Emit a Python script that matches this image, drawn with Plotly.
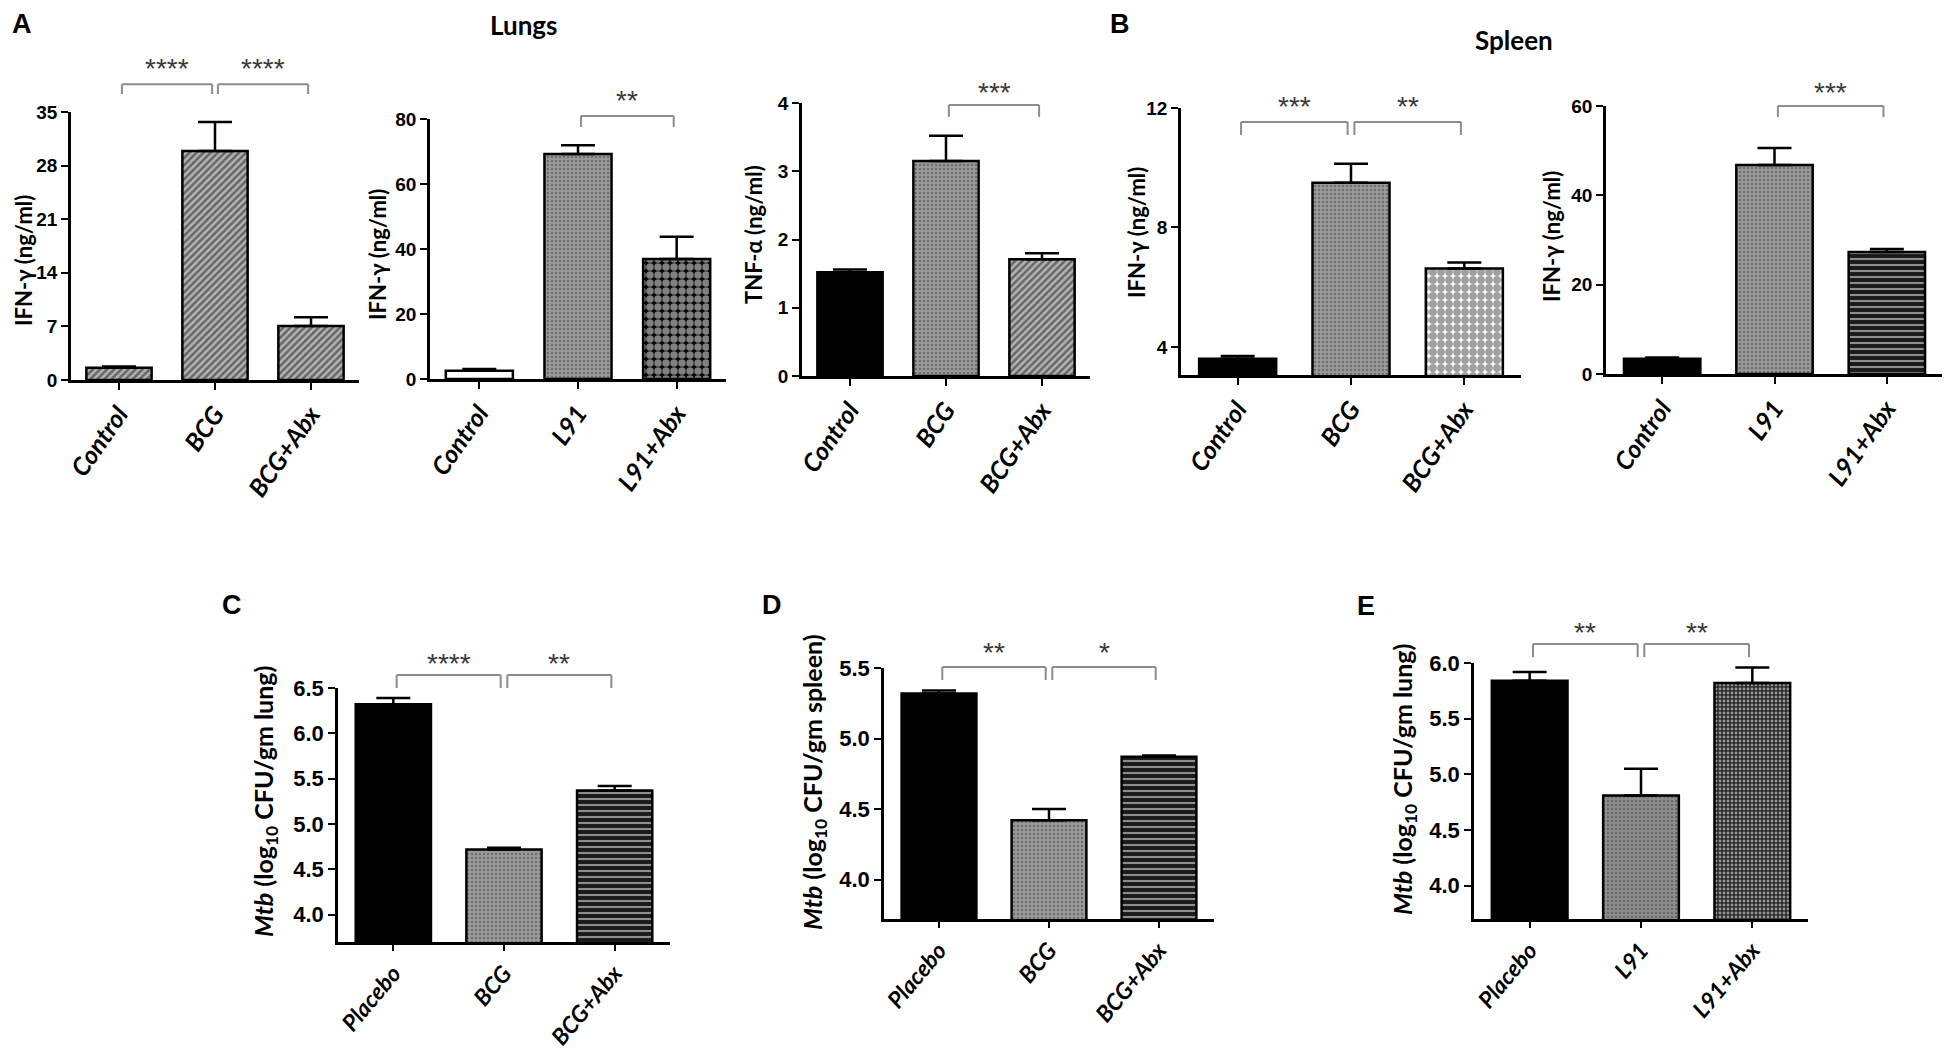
import plotly.graph_objects as go

W, H = 1950, 1050
OFF_X, OFF_Y = 5, 8  # page body margin in the browser

# ---- data (means and upper SEM) ----
bcg_groups = ["Control", "BCG", "BCG+Abx"]
l91_groups = ["Control", "L91", "L91+Abx"]
cfu_bcg_groups = ["Placebo", "BCG", "BCG+Abx"]
cfu_l91_groups = ["Placebo", "L91", "L91+Abx"]

lung_bcg_ifng = [1.6, 29.9, 7.05]
lung_bcg_ifng_sem = [0.15, 3.8, 1.15]
lung_l91_ifng = [2.5, 69.2, 36.9]
lung_l91_ifng_sem = [0.6, 2.7, 6.9]
lung_bcg_tnfa = [1.52, 3.15, 1.71]
lung_bcg_tnfa_sem = [0.04, 0.37, 0.09]
spleen_bcg_ifng = [3.6, 9.5, 6.63]
spleen_bcg_ifng_sem = [0.1, 0.63, 0.2]
spleen_l91_ifng = [3.4, 46.8, 27.3]
spleen_l91_ifng_sem = [0.3, 3.8, 0.7]

lung_bcg_cfu = [6.32, 4.72, 5.37]
lung_bcg_cfu_sem = [0.07, 0.02, 0.05]
spleen_bcg_cfu = [5.32, 4.42, 4.87]
spleen_bcg_cfu_sem = [0.02, 0.08, 0.01]
lung_l91_cfu = [5.84, 4.81, 5.82]
lung_l91_cfu_sem = [0.08, 0.24, 0.14]

a1_stats = [(0, 1, "****"), (1, 2, "****")]
a2_stats = [(1, 2, "**")]
a3_stats = [(1, 2, "***")]
b1_stats = [(0, 1, "***"), (1, 2, "**")]
b2_stats = [(1, 2, "***")]
c_stats = [(0, 1, "****"), (1, 2, "**")]
d_stats = [(0, 1, "**"), (1, 2, "*")]
e_stats = [(0, 1, "**"), (1, 2, "**")]

a1_ticks = [0, 7, 14, 21, 28, 35]
a2_ticks = [0, 20, 40, 60, 80]
a3_ticks = [0, 1, 2, 3, 4]
b1_ticks = [4, 8, 12]
b2_ticks = [0, 20, 40, 60]
c_ticks = [4.0, 4.5, 5.0, 5.5, 6.0, 6.5]
d_ticks = [4.0, 4.5, 5.0, 5.5]
e_ticks = [4.0, 4.5, 5.0, 5.5, 6.0]

# ---- fill styles ----
HATCH = dict(bg="#666666", shape="/", fg="#1c1c1c", size=5, sol=0.5)
FINE = dict(bg="#9a9a9a", shape=".", fg="#e6e6e6", size=4, sol=0.3)
FINE_DARK = dict(bg="#8e8e8e", shape=".", fg="#d0d0d0", size=4, sol=0.3)
BLACK = dict(bg="#000000", shape="", fg="#000000", size=8, sol=0.3)
WHITE = dict(bg="#ffffff", shape="", fg="#ffffff", size=8, sol=0.3)
HOLES = dict(bg="#000000", shape=".", fg="#ffffff", size=8, sol=0.7)
CHECKER = dict(bg="#ffffff", shape=".", fg="#000000", size=8, sol=0.75)
BRICK = dict(bg="#1a1a1a", shape="-", fg="#e0e0e0", size=6, sol=0.35)
DARK_DOTS = dict(bg="#2a2a2a", shape=".", fg="#7a7a7a", size=4, sol=0.4)

TOP_TITLE = "IFN-γ (ng/ml)"

# panel: groups, values, sem, stats, ticks, range, fills, title, x px, y px,
#        (bracket, drop, star) in y-domain units, title centre px, row
panels = [
    (bcg_groups, lung_bcg_ifng, lung_bcg_ifng_sem, a1_stats, a1_ticks, [0, 35],
     [HATCH, HATCH, HATCH], TOP_TITLE, (68, 356), (112, 380), (1.104, 1.067, 1.164), (27, 261), 0),
    (l91_groups, lung_l91_ifng, lung_l91_ifng_sem, a2_stats, a2_ticks, [0, 80],
     [WHITE, FINE, HOLES], TOP_TITLE, (427, 723), (119, 379), (1.012, 0.969, 1.073), (380, 255), 0),
    (bcg_groups, lung_bcg_tnfa, lung_bcg_tnfa_sem, a3_stats, a3_ticks, [0, 4],
     [BLACK, FINE, HATCH], "TNF-α (ng/ml)", (799, 1087), (103, 376), (0.993, 0.949, 1.040), (757, 235), 0),
    (bcg_groups, spleen_bcg_ifng, spleen_bcg_ifng_sem, b1_stats, b1_ticks, [3.06, 12],
     [BLACK, FINE, CHECKER], TOP_TITLE, (1178, 1518), (108, 375), (0.948, 0.899, 1.004), (1139, 233), 0),
    (l91_groups, spleen_l91_ifng, spleen_l91_ifng_sem, b2_stats, b2_ticks, [0, 60],
     [BLACK, FINE, BRICK], TOP_TITLE, (1603, 1940), (106, 374), (1.0, 0.959, 1.052), (1554, 237), 0),
    (cfu_bcg_groups, lung_bcg_cfu, lung_bcg_cfu_sem, c_stats, c_ticks, [3.7, 6.5],
     [BLACK, FINE, BRICK], "<i>Mtb</i> (log<sub>10</sub> CFU/gm lung)", (335, 667), (688, 942),
     (1.051, 1.0, 1.098), (268, 802), 1),
    (cfu_bcg_groups, spleen_bcg_cfu, spleen_bcg_cfu_sem, d_stats, d_ticks, [3.72, 5.5],
     [BLACK, FINE, BRICK], "<i>Mtb</i> (log<sub>10</sub> CFU/gm spleen)", (881, 1211), (668, 919),
     (1.004, 0.952, 1.060), (817, 782), 1),
    (cfu_l91_groups, lung_l91_cfu, lung_l91_cfu_sem, e_stats, e_ticks, [3.7, 6.0],
     [BLACK, FINE_DARK, DARK_DOTS], "<i>Mtb</i> (log<sub>10</sub> CFU/gm lung)", (1471, 1805), (663, 919),
     (1.074, 1.023, 1.121), (1407, 780), 1),
]


def fx(px):
    return (px - OFF_X) / W


def fy(py):
    return 1 - (py - OFF_Y) / H


fig = go.Figure()
shapes = []
annotations = []
layout = {}

for k, (groups, vals, sem, stats, ticks, yrange, fills, ytitle, xpx, ypx, brk, tpos, row) in enumerate(panels, start=1):
    sfx = "" if k == 1 else str(k)
    fig.add_trace(go.Bar(
        x=groups, y=vals, width=0.68,
        xaxis="x" + sfx, yaxis="y" + sfx,
        marker=dict(
            color=[f["bg"] for f in fills],
            line=dict(color="black", width=2.5),
            pattern=dict(
                fillmode="overlay",
                shape=[f["shape"] for f in fills],
                fgcolor=[f["fg"] for f in fills],
                size=[f["size"] for f in fills],
                solidity=[f["sol"] for f in fills],
            ),
        ),
        error_y=dict(type="data", array=sem, arrayminus=[0] * len(sem), symmetric=False,
                     color="black", thickness=2.5, width=17),
        showlegend=False,
    ))

    tick_size = 19 if row == 0 else 22
    lab_size = 25 if row == 0 else 23
    title_size = 22 if row == 0 else 25
    layout["xaxis" + sfx] = dict(
        domain=[fx(xpx[0]), fx(xpx[1])], anchor="y" + sfx, automargin=False,
        range=[-0.5, 2.5], showline=True, linecolor="black", linewidth=2.5,
        ticks="outside", ticklen=7 if row == 0 else 6, tickwidth=2, tickcolor="black",
        tickangle=-55 if row == 0 else -50,
        tickfont=dict(family="Lato, Open Sans, sans-serif", size=lab_size, color="black",
                      weight="bold", style="italic"),
        showgrid=False, zeroline=False, fixedrange=True,
    )
    layout["yaxis" + sfx] = dict(
        domain=[fy(ypx[1]), fy(ypx[0])], anchor="x" + sfx, automargin=False,
        range=yrange, tickvals=ticks,
        tickformat=".1f" if row == 1 else "d",
        showline=True, linecolor="black", linewidth=2.5,
        ticks="outside", ticklen=7, tickwidth=2, tickcolor="black",
        tickfont=dict(family="Liberation Sans Narrow, Liberation Sans, Arial", size=tick_size,
                      color="black", weight="bold"),
        showgrid=False, zeroline=False, fixedrange=True,
    )
    # y-axis title as rotated text
    annotations.append(dict(text=f"<b>{ytitle}</b>", xref="paper", yref="paper",
                            x=fx(tpos[0] - 6), y=fy(tpos[1]), xanchor="center", yanchor="middle",
                            textangle=-90, showarrow=False, borderpad=0,
                            font=dict(family="Lato, Open Sans, sans-serif", size=title_size,
                                      color="black")))

    top, drop, star = brk
    for i, j, label in stats:
        x0, x1 = i + 0.03, j - 0.03
        for xa, ya, xb, yb in [(x0, drop, x0, top), (x0, top, x1, top), (x1, top, x1, drop)]:
            shapes.append(dict(type="line", xref="x" + sfx, yref=f"y{sfx} domain",
                               x0=xa, y0=ya, x1=xb, y1=yb,
                               line=dict(color="#8c8c8c", width=2)))
        annotations.append(dict(text=label, xref="x" + sfx, yref=f"y{sfx} domain",
                                x=(i + j) / 2, y=star, xanchor="center", yanchor="middle",
                                showarrow=False,
                                font=dict(family="Liberation Sans, Arial", size=28, color="#3a3a3a")))

# panel letters and headers
letters = [("A", 19, 24), ("B", 1117, 24), ("C", 229, 605), ("D", 769, 605), ("E", 1363, 606)]
for txt, px, py in letters:
    annotations.append(dict(text=f"<b>{txt}</b>", xref="paper", yref="paper",
                            x=fx(px), y=fy(py), xanchor="center", yanchor="middle",
                            showarrow=False,
                            font=dict(family="Liberation Sans, Arial", size=27, color="black")))
for txt, px, py in [("Lungs", 520, 25), ("Spleen", 1511, 40)]:
    annotations.append(dict(text=f"<b>{txt}</b>", xref="paper", yref="paper",
                            x=fx(px), y=fy(py), xanchor="center", yanchor="middle",
                            showarrow=False,
                            font=dict(family="Lato, Open Sans, sans-serif", size=26, color="black")))

fig.update_layout(
    **layout,
    template="none",
    shapes=shapes,
    annotations=annotations,
    width=W, height=H,
    margin=dict(l=0, r=0, t=0, b=0),
    paper_bgcolor="white",
    plot_bgcolor="white",
    bargap=0.3,
    showlegend=False,
    font=dict(family="Lato", color="black"),
)

fig.write_html("out.html")
